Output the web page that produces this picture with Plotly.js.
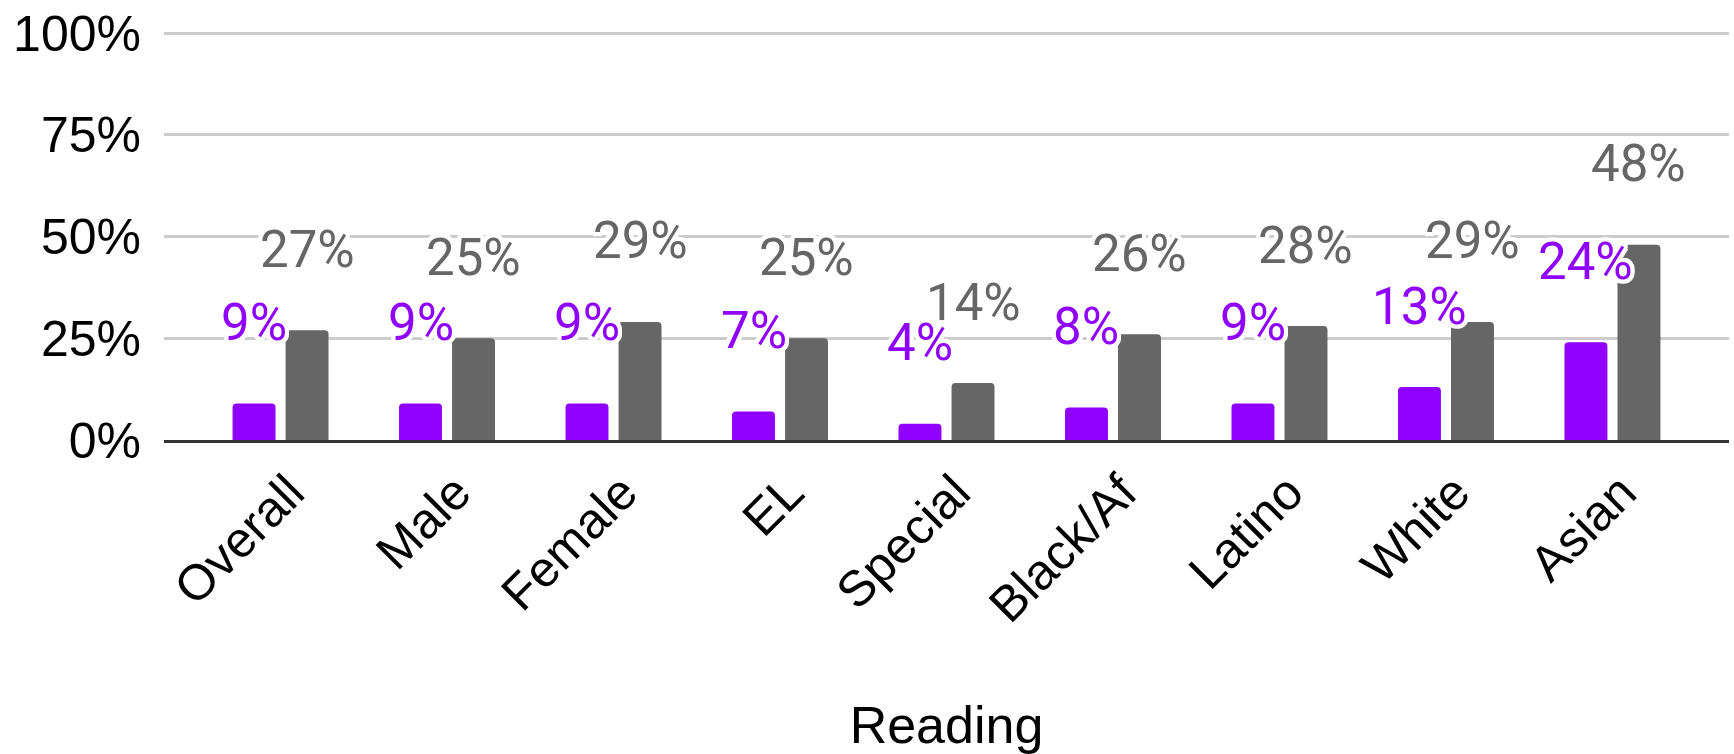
<!DOCTYPE html>
<html>
<head>
<meta charset="utf-8">
<script src="https://cdn.plot.ly/plotly-3.0.1.min.js"></script>
<style>
html,body{margin:0;padding:0;background:#fff;}
#chart{width:1734px;height:754px;}
</style>
</head>
<body>
<div id="chart"></div>
<script>
const categories = ['Overall','Male','Female','EL','Special','Black/Af','Latino','White','Asian'];
const purpleValues = [9, 9, 9, 7, 4, 8, 9, 13, 24];
const grayValues = [27, 25, 29, 25, 14, 26, 28, 29, 48];
const yTickVals = [0, 25, 50, 75, 100];
const xTitle = 'Reading';

const purple = '#8f00ff';
const gray = '#666666';

const traces = [
  {type:'bar', x:categories, y:purpleValues, name:'Purple', marker:{color:purple, cornerradius:4}, hoverinfo:'none'},
  {type:'bar', x:categories, y:grayValues, name:'Gray', marker:{color:gray, cornerradius:4}, hoverinfo:'none'}
];

const halo = '4px 0 0 #fff, -4px 0 0 #fff, 0 4px 0 #fff, 0 -4px 0 #fff, 3px 3px 0 #fff, -3px 3px 0 #fff, 3px -3px 0 #fff, -3px -3px 0 #fff, 2px 4px 0 #fff, -2px 4px 0 #fff, 2px -4px 0 #fff, -2px -4px 0 #fff, 4px 2px 0 #fff, -4px 2px 0 #fff, 4px -2px 0 #fff, -4px -2px 0 #fff';
const labelFont = {family:'Roboto, Arial, sans-serif', size:51, shadow:halo};
const annotations = [];
categories.forEach((c, i) => {
  annotations.push({x:c, y:purpleValues[i], xref:'x', yref:'y', text:purpleValues[i]+'%', showarrow:false,
    xshift:-26.5, yshift:81, yanchor:'middle', font:Object.assign({}, labelFont, {color:purple})});
  annotations.push({x:c, y:grayValues[i], xref:'x', yref:'y', text:grayValues[i]+'%', showarrow:false,
    xshift:26.5, yshift:81, yanchor:'middle', font:Object.assign({}, labelFont, {color:gray})});
});

const layout = {
  width:1734, height:754,
  margin:{l:164, r:5, t:29, b:314},
  paper_bgcolor:'#ffffff', plot_bgcolor:'#ffffff',
  showlegend:false,
  barmode:'group', bargap:0.363, bargroupgap:0.19,
  font:{family:'Liberation Sans, Arial, sans-serif', color:'#000000'},
  xaxis:{
    type:'category', range:[-0.7, 8.7],
    tickangle:-45, tickfont:{size:50, color:'#000000'},
    showgrid:false, showline:true, linecolor:'#333333', linewidth:3,
    ticks:'', automargin:false, ticklabelshift:9,
    title:{text:xTitle, font:{size:52, color:'#000000'}, standoff:82}
  },
  yaxis:{
    range:[0, 101], tickvals:yTickVals, ticktext:yTickVals.map(v => v+'%'),
    tickfont:{size:50, color:'#000000'},
    showgrid:true, gridcolor:'#cccccc', gridwidth:3,
    zeroline:false, showline:false, ticks:'', ticklabelstandoff:22, automargin:false
  },
  annotations:annotations
};

Plotly.newPlot('chart', traces, layout, {displayModeBar:false, staticPlot:true});
</script>
</body>
</html>
